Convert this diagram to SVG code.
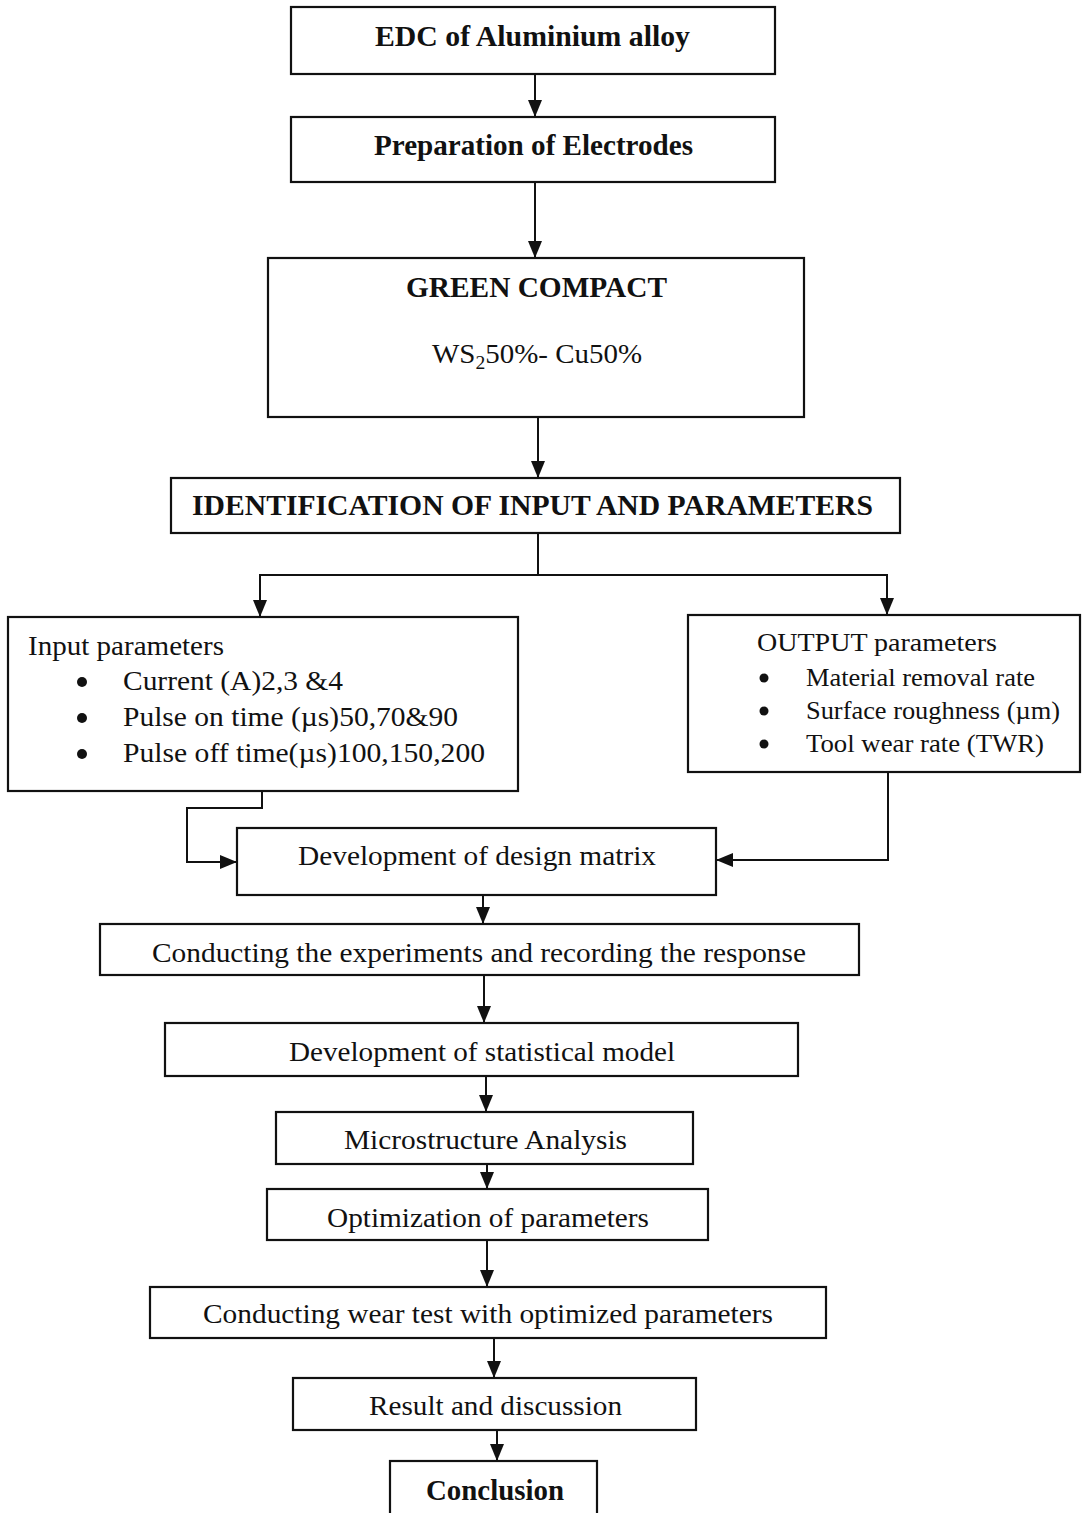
<svg xmlns="http://www.w3.org/2000/svg" width="1083" height="1513" viewBox="0 0 1083 1513">
<style>
.box{fill:#fff;stroke:#111;stroke-width:2.2}
.t{font-family:"Liberation Serif","Times New Roman",serif;fill:#111;font-size:28px}
.b{font-weight:bold;font-size:29px}
.o{font-size:25px}
.con{fill:none;stroke:#111;stroke-width:2}
.dot{fill:#111}
</style>
<defs>
<marker id="ah" markerUnits="userSpaceOnUse" markerWidth="17" markerHeight="14" refX="17" refY="7" orient="auto">
<path d="M0,0 L17,7 L0,14 z" fill="#111"/>
</marker>
</defs>
<rect width="1083" height="1513" fill="#fff"/>

<g id="connectors">
<path class="con" marker-end="url(#ah)" d="M535,74 V117"/>
<path class="con" marker-end="url(#ah)" d="M535,182 V258"/>
<path class="con" marker-end="url(#ah)" d="M538,417 V478"/>
<path class="con" marker-end="url(#ah)" d="M538,533 V575 H260 V617"/>
<path class="con" marker-end="url(#ah)" d="M538,575 H887 V615"/>
<path class="con" marker-end="url(#ah)" d="M262,791 V808 H187 V862 H237"/>
<path class="con" marker-end="url(#ah)" d="M888,772 V860 H716"/>
<path class="con" marker-end="url(#ah)" d="M483,895 V924"/>
<path class="con" marker-end="url(#ah)" d="M484,975 V1023"/>
<path class="con" marker-end="url(#ah)" d="M486,1076 V1112"/>
<path class="con" marker-end="url(#ah)" d="M487,1164 V1189"/>
<path class="con" marker-end="url(#ah)" d="M487,1240 V1287"/>
<path class="con" marker-end="url(#ah)" d="M494,1338 V1378"/>
<path class="con" marker-end="url(#ah)" d="M497,1430 V1461"/>
</g>

<g id="n1">
<rect class="box" x="291" y="7" width="484" height="67"/>
<text class="t b" x="375" y="46" textLength="315" lengthAdjust="spacingAndGlyphs">EDC of Aluminium  alloy</text>
</g>
<g id="n2">
<rect class="box" x="291" y="117" width="484" height="65"/>
<text class="t b" x="374" y="155" textLength="319" lengthAdjust="spacingAndGlyphs">Preparation of Electrodes</text>
</g>
<g id="n3">
<rect class="box" x="268" y="258" width="536" height="159"/>
<text class="t b" x="406" y="297" textLength="261" lengthAdjust="spacingAndGlyphs">GREEN COMPACT</text>
<text class="t" x="432" y="363" textLength="210" lengthAdjust="spacingAndGlyphs">WS<tspan dy="6" font-size="19">2</tspan><tspan dy="-6">50%- Cu50%</tspan></text>
</g>
<g id="n4">
<rect class="box" x="171" y="478" width="729" height="55"/>
<text class="t b" x="192" y="515" textLength="681" lengthAdjust="spacingAndGlyphs">IDENTIFICATION OF INPUT AND PARAMETERS</text>
</g>
<g id="n5">
<rect class="box" x="8" y="617" width="510" height="174"/>
<text class="t" x="28" y="655" font-size="29" textLength="196" lengthAdjust="spacingAndGlyphs">Input parameters</text>
<circle class="dot" cx="82" cy="682" r="5"/>
<circle class="dot" cx="82" cy="718" r="5"/>
<circle class="dot" cx="82" cy="754" r="5"/>
<text class="t" x="123" y="690" font-size="29" textLength="220" lengthAdjust="spacingAndGlyphs">Current (A)2,3 &amp;4</text>
<text class="t" x="123" y="726" font-size="29" textLength="335" lengthAdjust="spacingAndGlyphs">Pulse on time (µs)50,70&amp;90</text>
<text class="t" x="123" y="762" font-size="29" textLength="362" lengthAdjust="spacingAndGlyphs">Pulse off time(µs)100,150,200</text>
</g>
<g id="n6">
<rect class="box" x="688" y="615" width="392" height="157"/>
<text class="t o" x="757" y="651" textLength="240" lengthAdjust="spacingAndGlyphs">OUTPUT parameters</text>
<circle class="dot" cx="764" cy="678" r="4.5"/>
<circle class="dot" cx="764" cy="711" r="4.5"/>
<circle class="dot" cx="764" cy="744" r="4.5"/>
<text class="t o" x="806" y="686" textLength="229" lengthAdjust="spacingAndGlyphs">Material removal rate</text>
<text class="t o" x="806" y="719" textLength="254" lengthAdjust="spacingAndGlyphs">Surface roughness (µm)</text>
<text class="t o" x="806" y="752" textLength="238" lengthAdjust="spacingAndGlyphs">Tool wear rate (TWR)</text>
</g>
<g id="n7">
<rect class="box" x="237" y="828" width="479" height="67"/>
<text class="t" x="298" y="865" textLength="358" lengthAdjust="spacingAndGlyphs">Development of design matrix</text>
</g>
<g id="n8">
<rect class="box" x="100" y="924" width="759" height="51"/>
<text class="t" x="152" y="962" textLength="654" lengthAdjust="spacingAndGlyphs">Conducting the experiments and recording the response</text>
</g>
<g id="n9">
<rect class="box" x="165" y="1023" width="633" height="53"/>
<text class="t" x="289" y="1061" textLength="386" lengthAdjust="spacingAndGlyphs">Development of statistical model</text>
</g>
<g id="n10">
<rect class="box" x="276" y="1112" width="417" height="52"/>
<text class="t" x="344" y="1149" textLength="283" lengthAdjust="spacingAndGlyphs">Microstructure Analysis</text>
</g>
<g id="n11">
<rect class="box" x="267" y="1189" width="441" height="51"/>
<text class="t" x="327" y="1227" textLength="322" lengthAdjust="spacingAndGlyphs">Optimization of parameters</text>
</g>
<g id="n12">
<rect class="box" x="150" y="1287" width="676" height="51"/>
<text class="t" x="203" y="1323" textLength="570" lengthAdjust="spacingAndGlyphs">Conducting wear test with optimized parameters</text>
</g>
<g id="n13">
<rect class="box" x="293" y="1378" width="403" height="52"/>
<text class="t" x="369" y="1415" textLength="253" lengthAdjust="spacingAndGlyphs">Result and discussion</text>
</g>
<g id="n14">
<rect class="box" x="390" y="1461" width="207" height="70"/>
<text class="t b" x="426" y="1500" textLength="138" lengthAdjust="spacingAndGlyphs">Conclusion</text>
</g>
</svg>
